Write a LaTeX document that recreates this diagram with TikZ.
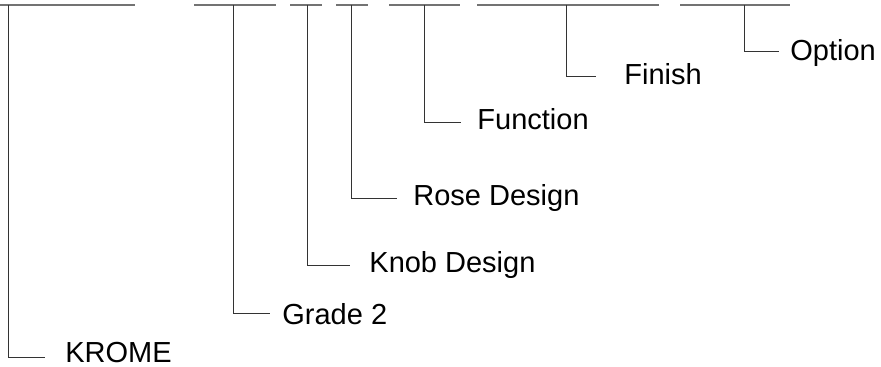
\documentclass[tikz,border=0pt]{standalone}
\usepackage{fontspec}
\setmainfont{Liberation Sans}
\usepackage{tikz}

\begin{document}
\begin{tikzpicture}[
  x=0.5pt, y=-0.5pt,
  bar/.style={draw=black!55, line width=0.7pt},
  lead/.style={draw=black!80, line width=0.5pt},
  part/.style={anchor=west, inner sep=0pt, text height=10.4pt, text depth=0pt,
    font=\fontsize{14.5}{16}\selectfont},
]
  \useasboundingbox (0,0) rectangle (881,367);
  % top code segments, one per field
  \draw[bar] (0,5) -- (135,5);
  \draw[bar] (194,5) -- (276,5);
  \draw[bar] (290,5) -- (322,5);
  \draw[bar] (336,5) -- (368,5);
  \draw[bar] (389,5) -- (460,5);
  \draw[bar] (477,5) -- (659,5);
  \draw[bar] (680,5) -- (790,5);
  % drop points and elbow ends
  \coordinate (tKrome) at (8,5);     \coordinate (eKrome) at (45,357);
  \coordinate (tGrade) at (233,5);   \coordinate (eGrade) at (270,314);
  \coordinate (tKnob) at (307,5);    \coordinate (eKnob) at (350,266);
  \coordinate (tRose) at (351,5);    \coordinate (eRose) at (397,199);
  \coordinate (tFunc) at (424,5);    \coordinate (eFunc) at (461,123);
  \coordinate (tFinish) at (566,5);  \coordinate (eFinish) at (596,77);
  \coordinate (tOption) at (744,5);  \coordinate (eOption) at (779,52);
  % labels
  \node[part] (krome) at (65,352) {KROME};
  \node[part] (grade) at (282,314) {Grade 2};
  \node[part] (knob) at (369,262) {Knob Design};
  \node[part] (rose) at (413,195) {Rose Design};
  \node[part] (func) at (477,119) {Function};
  \node[part] (finish) at (624,74) {Finish};
  \node[part] (option) at (790,50) {Option};
  % leaders
  \draw[lead] (tKrome) |- (eKrome);
  \draw[lead] (tGrade) |- (eGrade);
  \draw[lead] (tKnob) |- (eKnob);
  \draw[lead] (tRose) |- (eRose);
  \draw[lead] (tFunc) |- (eFunc);
  \draw[lead] (tFinish) |- (eFinish);
  \draw[lead] (tOption) |- (eOption);
\end{tikzpicture}
\end{document}
